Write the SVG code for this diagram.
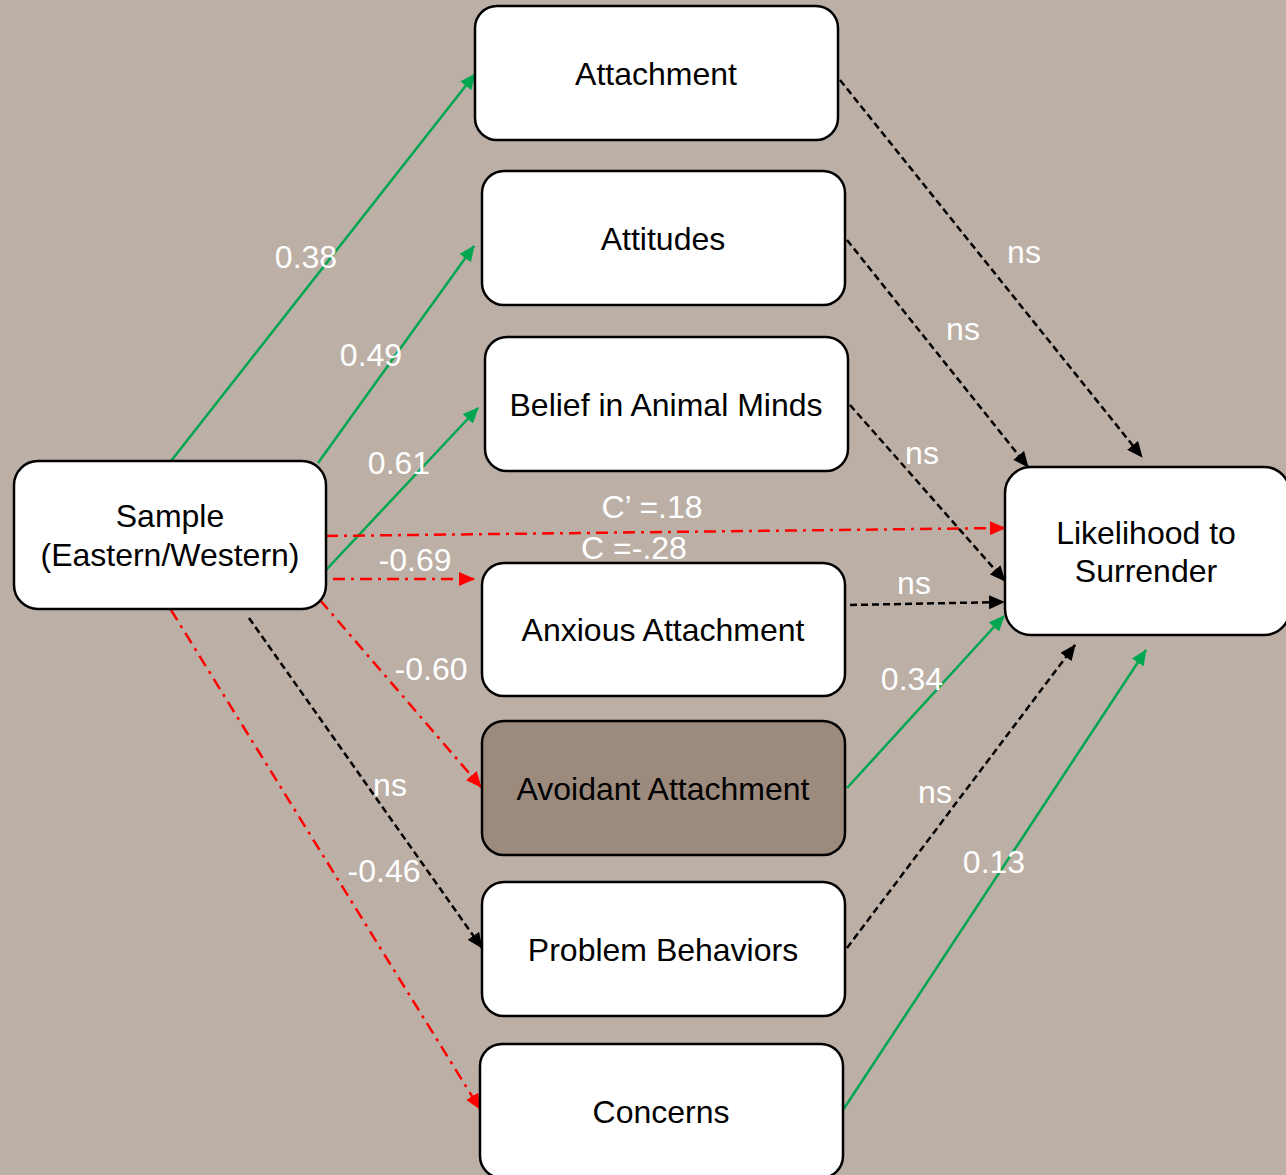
<svg xmlns="http://www.w3.org/2000/svg" width="1286" height="1175" viewBox="0 0 1286 1175">
<style>
.box{fill:#fff;stroke:#000;stroke-width:2.5}
.dark{fill:#9c8a7d}
.t{font-family:"Liberation Sans",Arial,sans-serif;font-size:32px;fill:#000;text-anchor:middle}
.l{font-family:"Liberation Sans",Arial,sans-serif;font-size:32px;fill:#fff;text-anchor:middle}
.g{stroke:#00a650;stroke-width:2.5;fill:none;marker-end:url(#ag)}
.r{stroke:#f00;stroke-width:2.5;fill:none;stroke-dasharray:12 6 3 6;marker-end:url(#ar)}
.k{stroke:#000;stroke-width:2.5;fill:none;stroke-dasharray:7 4;marker-end:url(#ak)}
</style>
<defs>
<marker id="ag" markerUnits="userSpaceOnUse" markerWidth="16" markerHeight="14" refX="15" refY="7" orient="auto"><path d="M0,0 L16,7 L0,14 z" fill="#00a650"/></marker>
<marker id="ar" markerUnits="userSpaceOnUse" markerWidth="16" markerHeight="14" refX="15" refY="7" orient="auto"><path d="M0,0 L16,7 L0,14 z" fill="#f00"/></marker>
<marker id="ak" markerUnits="userSpaceOnUse" markerWidth="16" markerHeight="14" refX="15" refY="7" orient="auto"><path d="M0,0 L16,7 L0,14 z" fill="#000"/></marker>
</defs>
<rect width="1286" height="1175" fill="#bcafa6"/>
<g id="connectors">
<path class="g" d="M171,461 L475,74"/>
<path class="g" d="M318,463 L474,246"/>
<path class="g" d="M326,570 L478,408"/>
<path class="r" d="M326,536 L1005,528"/>
<path class="r" d="M333,579 L474,579"/>
<path class="r" d="M320,600 L481,787"/>
<path class="k" d="M249,618 L482,948"/>
<path class="r" d="M171,610 L480,1109"/>
<path class="k" d="M840,80 L1142,457"/>
<path class="k" d="M847,240 L1028,467"/>
<path class="k" d="M850,405 L1005,581"/>
<path class="k" d="M850,605 L1004,602"/>
<path class="g" d="M847,788 L1004,616"/>
<path class="k" d="M847,948 L1075,645"/>
<path class="g" d="M843,1110 L1146,650"/>
<text class="l" x="306" y="268">0.38</text>
<text class="l" x="371" y="366">0.49</text>
<text class="l" x="399" y="474">0.61</text>
<text class="l" x="652" y="518">C’ =.18</text>
<text class="l" x="634" y="559">C =-.28</text>
<text class="l" x="415" y="571">-0.69</text>
<text class="l" x="431" y="680">-0.60</text>
<text class="l" x="390" y="796">ns</text>
<text class="l" x="384" y="882">-0.46</text>
<text class="l" x="1024" y="263">ns</text>
<text class="l" x="963" y="340">ns</text>
<text class="l" x="922" y="464">ns</text>
<text class="l" x="914" y="594">ns</text>
<text class="l" x="912" y="690">0.34</text>
<text class="l" x="935" y="803">ns</text>
<text class="l" x="994" y="873">0.13</text>
</g>
<g id="sample"><rect class="box" x="14" y="461" width="312" height="148" rx="24"/><text class="t" x="170" y="527">Sample</text><text class="t" x="170" y="566">(Eastern/Western)</text></g>
<g id="attachment"><rect class="box" x="475" y="6" width="363" height="134" rx="22"/><text class="t" x="656" y="85">Attachment</text></g>
<g id="attitudes"><rect class="box" x="482" y="171" width="363" height="134" rx="22"/><text class="t" x="663" y="250">Attitudes</text></g>
<g id="belief"><rect class="box" x="485" y="337" width="363" height="134" rx="22"/><text class="t" x="666" y="416">Belief in Animal Minds</text></g>
<g id="anxious"><rect class="box" x="482" y="563" width="363" height="133" rx="22"/><text class="t" x="663" y="641">Anxious Attachment</text></g>
<g id="avoidant"><rect class="box dark" x="482" y="721" width="363" height="134" rx="22"/><text class="t" x="663" y="800">Avoidant Attachment</text></g>
<g id="problem"><rect class="box" x="482" y="882" width="363" height="134" rx="22"/><text class="t" x="663" y="961">Problem Behaviors</text></g>
<g id="concerns"><rect class="box" x="480" y="1044" width="363" height="134" rx="22"/><text class="t" x="661" y="1123">Concerns</text></g>
<g id="likelihood"><rect class="box" x="1005" y="467" width="285" height="168" rx="26"/><text class="t" x="1146" y="544">Likelihood to</text><text class="t" x="1146" y="582">Surrender</text></g>
</svg>
